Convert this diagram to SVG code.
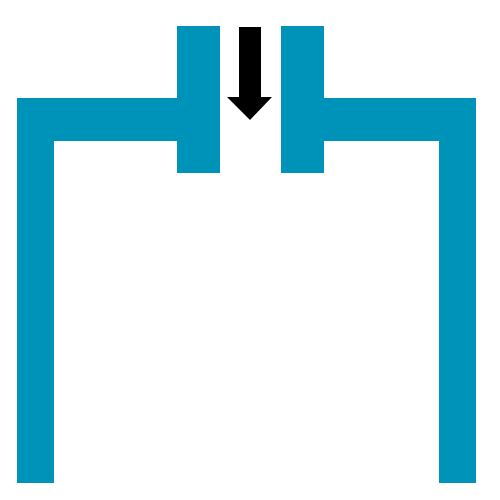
<svg xmlns="http://www.w3.org/2000/svg" width="500" height="500" viewBox="0 0 500 500">
<style>.w{fill:#0093b9}.a{fill:#000}</style>
<rect width="500" height="500" fill="#fff"/>
<g id="left-wall"><path class="w" d="M17 98H177V26H220V173H177V141H54V483H17Z"/></g>
<g id="right-wall"><path class="w" d="M476 98H324V26H281V173H324V141H439V483H476Z"/></g>
<g id="connectors"><path class="a" d="M239 27H261V97H272L250 120L227 97H239Z"/></g>
</svg>
